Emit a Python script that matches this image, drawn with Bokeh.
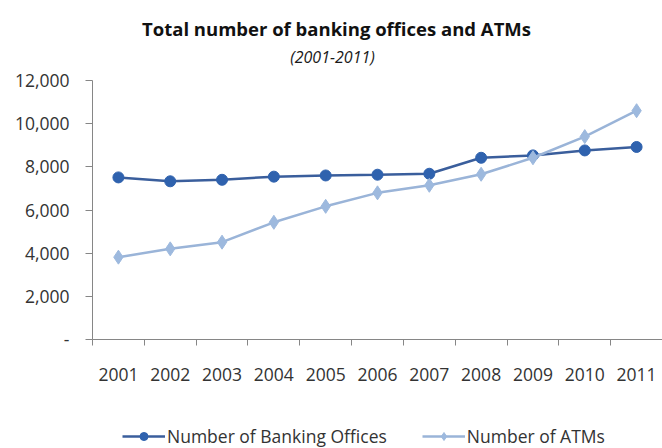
from bokeh.plotting import figure
from bokeh.layouts import column
from bokeh.models import (FixedTicker, NumeralTickFormatter, Legend, LegendItem,
                          Label, ColumnDataSource)
from bokeh.embed import file_html
from bokeh.resources import INLINE

# Data: total banking offices and ATMs, 2001-2011
years = [2001, 2002, 2003, 2004, 2005, 2006, 2007, 2008, 2009, 2010, 2011]
banking_offices = [7510, 7330, 7400, 7545, 7600, 7635, 7680, 8420, 8530, 8760, 8920]
atms = [3815, 4200, 4510, 5430, 6170, 6795, 7145, 7655, 8420, 9400, 10600]
y_ticks = [0, 2000, 4000, 6000, 8000, 10000, 12000]

TITLE = "Total number of banking offices and ATMs"
SUBTITLE = "(2001-2011)"
SERIES = ["Number of Banking Offices", "Number of ATMs"]

FONT = "Open Sans"
OFFICE_COLOR = "#2F62AE"
OFFICE_LINE = "#3A5E9C"
ATM_COLOR = "#9DB9DE"
ATM_LINE = "#9AB4D8"
AXIS_COLOR = "#868686"
TEXT_COLOR = "#333333"
W = 662
LEFT = 92          # width of the y-axis gutter


def strip(height):
    """An axis-less figure sharing the chart's left gutter; x data units = pixels."""
    f = figure(width=W, height=height, output_backend="svg", toolbar_location=None,
               x_range=(LEFT, W), y_range=(0, height), x_axis_location=None,
               y_axis_location=None, min_border_left=LEFT, min_border_right=0,
               min_border_top=0, min_border_bottom=0, title=None)
    f.outline_line_color = None
    f.xgrid.grid_line_color = None
    f.ygrid.grid_line_color = None
    return f


# --- heading ---
head = strip(66)
head.add_layout(Label(x=336, y=38, text=TITLE, text_align="center", text_baseline="middle",
                      text_font=FONT, text_font_size="18.5px", text_font_style="bold",
                      text_color="#111111"))
head.add_layout(Label(x=332, y=10, text=SUBTITLE, text_align="center", text_baseline="middle",
                      text_font=FONT, text_font_size="16px", text_font_style="italic",
                      text_color="#1a1a1a"))

# --- chart ---
source = ColumnDataSource(dict(year=years, offices=banking_offices, atms=atms))

p = figure(width=W, height=344, output_backend="svg", toolbar_location=None,
           x_range=(years[0] - 0.5, years[-1] + 0.5), y_range=(0, 12000),
           min_border_left=LEFT, min_border_right=0, min_border_top=14,
           min_border_bottom=71, title=None)
p.outline_line_color = None
p.xgrid.grid_line_color = None
p.ygrid.grid_line_color = None

line_kw = dict(line_width=2.5)
office_marker = dict(marker="circle", size=11, fill_color=OFFICE_COLOR, line_color=OFFICE_COLOR)
atm_marker = dict(marker="diamond", size=14, fill_color=ATM_COLOR, line_color=ATM_COLOR)

p.line("year", "offices", source=source, line_color=OFFICE_LINE, **line_kw)
p.scatter("year", "offices", source=source, **office_marker)
p.line("year", "atms", source=source, line_color=ATM_LINE, **line_kw)
p.scatter("year", "atms", source=source, **atm_marker)

# X axis: labels at category centres, tick marks between categories
xa = p.xaxis[0]
boundaries = [y - 0.5 for y in years] + [years[-1] + 0.5]
xa.ticker = FixedTicker(ticks=years, minor_ticks=boundaries)
xa.major_label_overrides = {y: str(y) for y in years}
xa.major_tick_in = 0
xa.major_tick_out = 0
xa.minor_tick_in = 0
xa.minor_tick_out = 6
xa.minor_tick_line_color = AXIS_COLOR
xa.axis_line_color = AXIS_COLOR
xa.major_label_standoff = 22
xa.major_label_text_font = FONT
xa.major_label_text_font_size = "17.5px"
xa.major_label_text_color = TEXT_COLOR

# Y axis
ya = p.yaxis[0]
ya.ticker = FixedTicker(ticks=y_ticks, minor_ticks=[])
ya.formatter = NumeralTickFormatter(format="0,0")
ya.major_label_overrides = {0: "-"}
ya.major_tick_in = 0
ya.major_tick_out = 7
ya.major_tick_line_color = AXIS_COLOR
ya.axis_line_color = AXIS_COLOR
ya.major_label_standoff = 16
ya.major_label_text_font = FONT
ya.major_label_text_font_size = "17.5px"
ya.major_label_text_color = TEXT_COLOR

# --- legend strip: sample renderers styled like the series, kept off-screen ---
leg = strip(38)
offscreen = ColumnDataSource(dict(x=[-1e6], y=[-1e6]))
l1 = leg.line("x", "y", source=offscreen, line_color=OFFICE_LINE, **line_kw)
m1 = leg.scatter("x", "y", source=offscreen, **office_marker)
l2 = leg.line("x", "y", source=offscreen, line_color=ATM_LINE, **line_kw)
m2 = leg.scatter("x", "y", source=offscreen, **atm_marker)
legend = Legend(items=[
    LegendItem(label=SERIES[0], renderers=[l1, m1]),
    LegendItem(label=SERIES[1], renderers=[l2, m2]),
], orientation="horizontal", location=(30, 0))
legend.border_line_color = None
legend.background_fill_alpha = 0
legend.label_text_font = FONT
legend.label_text_font_size = "17.5px"
legend.label_text_color = TEXT_COLOR
legend.glyph_width = 43
legend.glyph_height = 20
legend.label_standoff = 2
legend.spacing = 35
legend.margin = 0
legend.padding = 0
leg.add_layout(legend, "center")

layout = column(head, p, leg, spacing=0)
open("out.html", "w").write(file_html(layout, INLINE))
